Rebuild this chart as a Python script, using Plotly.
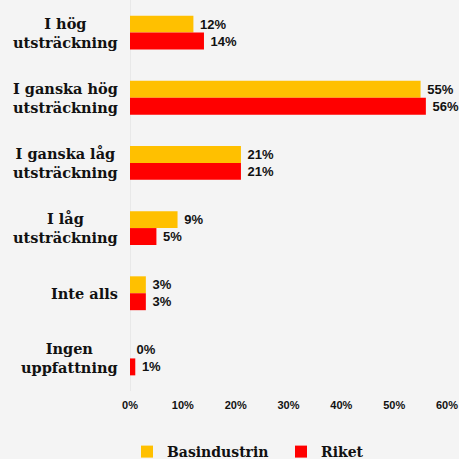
import plotly.graph_objects as go

categories = [
    "I hög<br>utsträckning",
    "I ganska hög<br>utsträckning",
    "I ganska låg<br>utsträckning",
    "I låg<br>utsträckning",
    "Inte alls",
    "Ingen<br>uppfattning",
]
basindustrin = [12, 55, 21, 9, 3, 0]
riket = [14, 56, 21, 5, 3, 1]
x_ticks = [0, 10, 20, 30, 40, 50, 60]

YELLOW = "#FFC000"
RED = "#FF0000"
BG = "#F4F4F4"
SLAB = "DejaVu Serif"
SANS = "Liberation Sans"

fig = go.Figure()
for name, vals, color in [("Basindustrin", basindustrin, YELLOW), ("Riket", riket, RED)]:
    fig.add_trace(go.Bar(
        name=name,
        y=categories,
        x=vals,
        orientation="h",
        marker=dict(color=color, line=dict(width=0)),
        text=[f"\u00a0{v}%" for v in vals],
        textposition="outside",
        textfont=dict(family=SANS, size=13, color="#111111", weight="bold"),
        cliponaxis=False,
    ))

# category labels, centred multi-line text left of the axis
for c in categories:
    fig.add_annotation(
        x=0, xref="paper", y=c, yref="y",
        text=f"<b>{c}</b>", showarrow=False,
        xanchor="right", xshift=-10, align="center",
        font=dict(family=SLAB, size=14.5, color="#111111"),
    )

fig.update_layout(
    width=459, height=459,
    margin=dict(l=130, r=12, t=0, b=68, autoexpand=False),
    paper_bgcolor=BG, plot_bgcolor=BG,
    barmode="group", bargap=0.48, bargroupgap=0,
    showlegend=True,
    legend=dict(
        orientation="h", xref="container", yref="container",
        x=127 / 459, xanchor="left", y=1 - 436 / 459, yanchor="top",
        font=dict(family=SLAB, size=14, color="#111111", weight="bold"),
        traceorder="normal", entrywidth=109, entrywidthmode="pixels",
        bgcolor="rgba(0,0,0,0)",
    ),
    xaxis=dict(
        range=[0, 60], tickvals=x_ticks, ticktext=[f"{t}%" for t in x_ticks],
        showgrid=False, zeroline=False, showline=False,
        tickfont=dict(family=SANS, size=11, color="#111111", weight="bold"),
        ticks="", ticklabelstandoff=6,
    ),
    yaxis=dict(
        autorange="reversed", showticklabels=False, showgrid=False,
        zeroline=False, showline=False, ticks="",
    ),
    shapes=[dict(type="line", xref="x", yref="paper", x0=0, x1=0, y0=0, y1=1,
                 line=dict(color="#DCDCDC", width=1), layer="below")],
)

fig.write_html("out.html")
